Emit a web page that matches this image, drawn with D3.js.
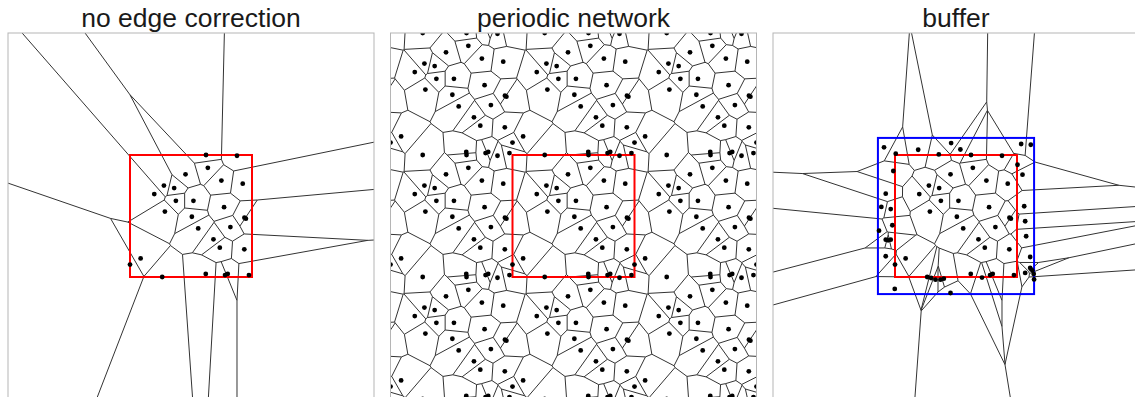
<!DOCTYPE html>
<html>
<head>
<meta charset="utf-8">
<script src="https://cdn.jsdelivr.net/npm/d3@7"></script>
<style>
  html, body { margin: 0; padding: 0; background: #fff; }
  svg { display: block; }
</style>
</head>
<body>
<svg id="chart" width="1135" height="397"></svg>
<script>
// Observed points inside the unit window [0,1]x[0,1] (y measured downward)
const winX = [0.623, 0.877, 0.638, 0.455, 0.278, 0.362, 0.199, 0.749, 0.924, 0.520,
              0.376, 0.771, 0.286, 0.507, 0.938, 0.950, 0.559, 0.823, 0.684, 0.736,
              0.937, 0.087, 0.000, 0.264, 0.621, 0.779, 0.801, 0.975];
const winY = [0.000, 0.006, 0.105, 0.158, 0.251, 0.271, 0.320, 0.210, 0.235, 0.376,
              0.376, 0.428, 0.464, 0.506, 0.514, 0.522, 0.602, 0.591, 0.691, 0.760,
              0.773, 0.848, 0.898, 1.000, 0.975, 0.984, 0.975, 0.984];

// Extra points in the buffer zone around the window
const bufX = [-0.090, 0.006, 0.190, 0.359, 0.460, 0.536, 1.034, 1.113, -0.014, 1.004,
              1.045, -0.076, -0.112, -0.035, 1.059, -0.022, -0.131, -0.076, -0.057, -0.035,
              1.067, 1.075, -0.076, 1.108, 1.108, 1.125, 1.137, 1.140, 1.067, 0.713,
              0.296, 0.332, 0.373, 0.400, -0.002, 0.455];
const bufY = [-0.063, -0.011, -0.043, -0.005, -0.098, -0.045, -0.090, -0.084, 0.131, 0.080,
              0.161, 0.317, 0.426, 0.443, 0.420, 0.576, 0.620, 0.694, 0.699, 0.694,
              0.543, 0.666, 0.830, 0.836, 0.926, 0.945, 0.975, 1.020, 0.967, 1.005,
              1.008, 1.022, 1.022, 1.014, 1.098, 1.131];

const titles = ["no edge correction", "periodic network", "buffer"];
const window01 = [0, 1];
const bufferBox = [-0.14, 1.14];
const viewDomain = [-1, 2];

const svg = d3.select("#chart");
const panelLeft = [8, 390.5, 773];
const panelTop = 33;
const panelSize = 366;

const winPts = winX.map((x, i) => [x, winY[i]]);
const bufPts = bufX.map((x, i) => [x, bufY[i]]);

// periodic copies of the window points (5x5 tiles so the drawn 3x3 area has no edge effects)
const periodicPts = [];
for (let dx = -2; dx <= 2; dx++) {
  for (let dy = -2; dy <= 2; dy++) {
    winPts.forEach(p => periodicPts.push([p[0] + dx, p[1] + dy]));
  }
}

const pointSets = [winPts, periodicPts, winPts.concat(bufPts)];
const dotSets = [
  winPts,
  periodicPts.filter(p => p[0] >= -1.01 && p[0] <= 2.01 && p[1] >= -1.01 && p[1] <= 2.01),
  winPts.concat(bufPts)
];

panelLeft.forEach((x0, k) => {
  const x = d3.scaleLinear().domain(viewDomain).range([x0, x0 + panelSize]);
  const y = d3.scaleLinear().domain(viewDomain).range([panelTop, panelTop + panelSize]);
  const g = svg.append("g");

  const clipId = "clip" + k;
  svg.append("clipPath").attr("id", clipId)
    .append("rect")
    .attr("x", x0).attr("y", panelTop)
    .attr("width", panelSize).attr("height", panelSize);

  const body = g.append("g").attr("clip-path", `url(#${clipId})`);

  // Voronoi tessellation
  const px = pointSets[k].map(p => [x(p[0]), y(p[1])]);
  const delaunay = d3.Delaunay.from(px);
  const vor = delaunay.voronoi([x0, panelTop, x0 + panelSize, panelTop + panelSize]);
  body.append("path")
    .attr("d", vor.render())
    .attr("fill", "none")
    .attr("stroke", "#333")
    .attr("stroke-width", 1);

  // buffer box
  if (k === 2) {
    body.append("rect")
      .attr("x", x(bufferBox[0])).attr("y", y(bufferBox[0]))
      .attr("width", x(bufferBox[1]) - x(bufferBox[0]))
      .attr("height", y(bufferBox[1]) - y(bufferBox[0]))
      .attr("fill", "none").attr("stroke", "#0000ff").attr("stroke-width", 2);
  }

  // observation window
  body.append("rect")
    .attr("x", x(window01[0])).attr("y", y(window01[0]))
    .attr("width", x(window01[1]) - x(window01[0]))
    .attr("height", y(window01[1]) - y(window01[0]))
    .attr("fill", "none").attr("stroke", "#ff0000").attr("stroke-width", 2);

  // points
  body.selectAll("circle")
    .data(dotSets[k])
    .join("circle")
    .attr("cx", d => x(d[0]))
    .attr("cy", d => y(d[1]))
    .attr("r", 2.4)
    .attr("fill", "#000");

  // frame
  g.append("rect")
    .attr("x", x0).attr("y", panelTop)
    .attr("width", panelSize).attr("height", panelSize)
    .attr("fill", "none").attr("stroke", "#b5b5b5").attr("stroke-width", 1);

  // title
  g.append("text")
    .attr("x", x0 + panelSize / 2)
    .attr("y", 26.5)
    .attr("text-anchor", "middle")
    .attr("font-family", "'Liberation Sans', Arial, sans-serif")
    .attr("font-size", 26.5)
    .attr("fill", "#1a1a1a")
    .text(titles[k]);
});
</script>
</body>
</html>
